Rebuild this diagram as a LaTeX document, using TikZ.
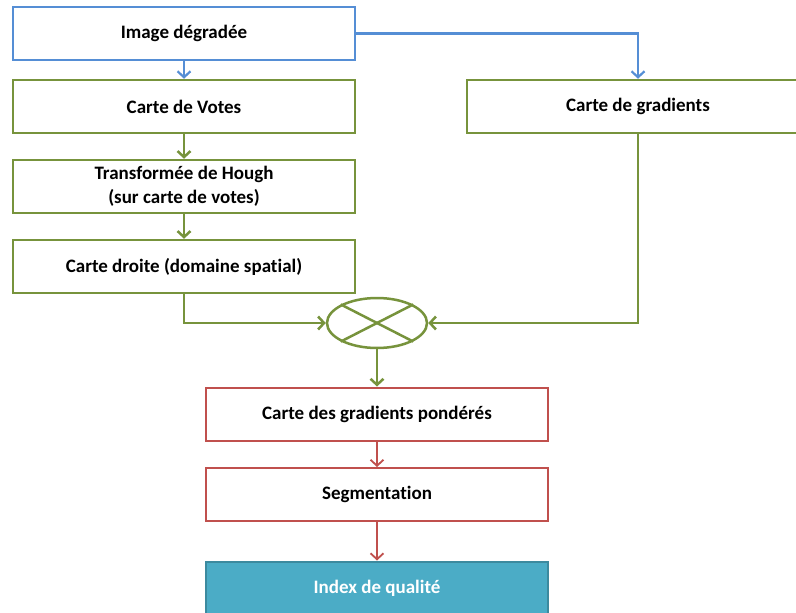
\documentclass[tikz,border=0pt]{standalone}
\usepackage{fontspec}
\setmainfont{Carlito}[Ligatures=NoCommon]
\usetikzlibrary{shapes.geometric,arrows.meta}
\definecolor{cblue}{HTML}{558ED5}
\definecolor{cgreen}{HTML}{77933C}
\definecolor{cred}{HTML}{C0504D}
\definecolor{cteal}{HTML}{4BACC6}
\definecolor{ctealdark}{HTML}{3C8A9F}
\tikzset{
  box/.style={draw, fill=white, rectangle, minimum width=342pt, minimum height=53pt, inner sep=0pt,
    align=center, font=\fontsize{19}{24}\selectfont\bfseries, text=black},
  bluebox/.style={box, draw=cblue, line width=2.2pt},
  greenbox/.style={box, draw=cgreen, line width=2.5pt},
  redbox/.style={box, draw=cred, line width=2pt},
  tealbox/.style={box, draw=ctealdark, fill=cteal, line width=2pt, text=white},
  arr/.style={-{Straight Barb[length=6pt,width=13pt]}},
  bluearr/.style={arr, draw=cblue, line width=2.2pt},
  greenarr/.style={arr, draw=cgreen, line width=2.5pt},
  redarr/.style={arr, draw=cred, line width=1.8pt},
}
\begin{document}
\begin{tikzpicture}[x=1pt,y=-1pt]
\clip (0,0) rectangle (796,613);
\fill[white] (0,0) rectangle (796,613);
\node[bluebox]  (img)  at (184,33.5)  {Image dégradée};
\node[greenbox] (vote) at (184,106.5) {Carte de Votes};
\node[greenbox, inner ysep=-6pt] (hough) at (184,186.5) {Transformée de Hough\\(sur carte de votes)};
\node[greenbox] (droite) at (184,266.5) {Carte droite (domaine spatial)};
\node[greenbox] (grad) at (638,106.5) {Carte de gradients};
\node[draw=cgreen, line width=2.5pt, ellipse, minimum width=100pt, minimum height=50pt, inner sep=0pt] (mult) at (377,323) {};
\draw[cgreen, line width=2.5pt] (mult.north west) -- (mult.south east);
\draw[cgreen, line width=2.5pt] (mult.south west) -- (mult.north east);
\node[redbox] (pond) at (377,414) {Carte des gradients pondérés};
\node[redbox] (seg) at (377,494.5) {Segmentation};
\node[tealbox] (idx) at (377,588) {Index de qualité};
\draw[bluearr] (img) -- (vote);
\draw[bluearr] (img.east) -| (grad.north);
\draw[greenarr] (vote) -- (hough);
\draw[greenarr] (hough) -- (droite);
\draw[greenarr] (droite.south) |- (mult.west);
\draw[greenarr] (grad.south) |- (mult.east);
\draw[greenarr] (mult.south) -- (pond.north);
\draw[redarr] (pond) -- (seg);
\draw[redarr] (seg) -- (idx);
\end{tikzpicture}
\end{document}
